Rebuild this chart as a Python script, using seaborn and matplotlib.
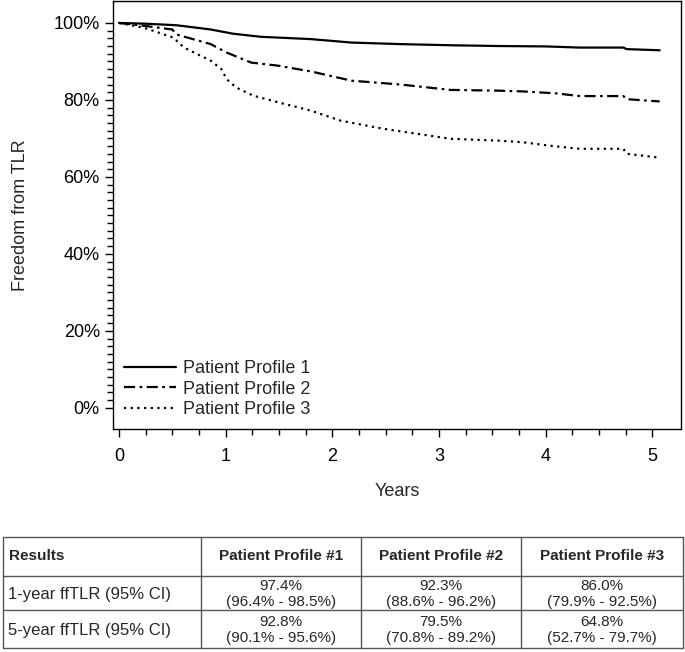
import matplotlib
matplotlib.use("Agg")
import matplotlib.pyplot as plt
from matplotlib.ticker import FixedLocator, MultipleLocator, PercentFormatter
import numpy as np
import pandas as pd
import seaborn as sns

# curves (years, % free from TLR)
p1_years = [0, 0.25, 0.54, 0.86, 1.07, 1.33, 1.8, 2.18, 2.64, 3.11, 3.57, 4.0, 4.32, 4.73, 4.76, 5.07]
p1_free = [100, 99.8, 99.4, 98.3, 97.2, 96.4, 95.8, 94.9, 94.5, 94.2, 94.0, 93.9, 93.6, 93.6, 93.2, 92.9]

p2_years = [0, 0.25, 0.5, 0.54, 0.86, 1.01, 1.24, 1.49, 1.8, 2.18, 2.64, 3.11, 3.57, 3.79, 4.10, 4.32, 4.73, 4.76, 5.07]
p2_free = [100, 99.2, 98.3, 97.0, 94.5, 92.3, 89.7, 88.9, 87.4, 85.0, 84.0, 82.6, 82.4, 82.2, 81.7, 81.0, 81.0, 80.2, 79.6]

p3_years = [0, 0.23, 0.51, 0.61, 0.86, 0.96, 1.01, 1.10, 1.26, 1.49, 1.8, 2.08, 2.48, 3.11, 3.57, 3.79, 4.04, 4.32, 4.73, 4.76, 5.07]
p3_free = [100, 98.8, 96.2, 93.6, 90.2, 88.0, 85.4, 83.2, 81.1, 79.4, 77.2, 74.6, 72.5, 69.9, 69.4, 69.0, 68.1, 67.3, 67.3, 66.0, 65.0]

profiles = ["Patient Profile 1", "Patient Profile 2", "Patient Profile 3"]

# results table
table_header = ["Results", "Patient Profile #1", "Patient Profile #2", "Patient Profile #3"]
row_labels = ["1-year ffTLR (95% CI)", "5-year ffTLR (95% CI)"]
one_year = ["97.4%\n(96.4% - 98.5%)", "92.3%\n(88.6% - 96.2%)", "86.0%\n(79.9% - 92.5%)"]
five_year = ["92.8%\n(90.1% - 95.6%)", "79.5%\n(70.8% - 89.2%)", "64.8%\n(52.7% - 79.7%)"]

sns.set_style("ticks")
plt.rcParams["font.family"] = ["Liberation Sans", "DejaVu Sans"]

frames = []
for name, t, s in zip(profiles, [p1_years, p2_years, p3_years], [p1_free, p2_free, p3_free]):
    frames.append(pd.DataFrame({"years": t, "free": s, "profile": name}))
df = pd.concat(frames, ignore_index=True)

W, H = 685, 652
fig = plt.figure(figsize=(W / 100, H / 100), dpi=100)
ax = fig.add_axes([113 / W, 1 - 429 / H, (681 - 113) / W, (429 - 1) / H])

sns.lineplot(
    data=df, x="years", y="free", hue="profile", style="profile",
    palette=["black"] * 3,
    dashes={profiles[0]: "", profiles[1]: (5, 2, 1.2, 2), profiles[2]: (1, 2)},
    estimator=None, linewidth=1.6, ax=ax,
)

ax.set_xlim(-0.056, 5.27)
ax.set_ylim(-5.5, 105.7)
ax.xaxis.set_major_locator(MultipleLocator(1))
ax.xaxis.set_minor_locator(FixedLocator(np.arange(0, 5.01, 0.25)))
ax.yaxis.set_major_locator(MultipleLocator(20))
ax.yaxis.set_minor_locator(FixedLocator(np.arange(0, 100.1, 2)))
ax.yaxis.set_major_formatter(PercentFormatter(decimals=0))
ax.tick_params(which="major", length=6, width=1, labelsize=13, color="black", labelcolor="black")
ax.tick_params(which="minor", length=4, width=1, color="black")
ax.tick_params(axis="x", pad=8)
for sp in ax.spines.values():
    sp.set_visible(True)
    sp.set_color("black")
    sp.set_linewidth(1)

ax.set_xlabel("Years", fontsize=13, labelpad=13)
ax.set_ylabel("Freedom from TLR", fontsize=13, labelpad=18)

ax.legend(loc="lower left", frameon=False, fontsize=13, handlelength=2.9,
          handletextpad=0.4, labelspacing=0.2, borderaxespad=0.2)

# results table drawn below the plot
tax = fig.add_axes([0, 0, 1, 1])
tax.set_xlim(0, W)
tax.set_ylim(H, 0)
tax.axis("off")

col_edges = [3, 201, 361, 521, 683]
row_edges = [537, 576, 610, 648]
line_color = "#555555"
for x in col_edges:
    tax.plot([x, x], [row_edges[0], row_edges[-1]], color=line_color, lw=1)
for y in row_edges:
    tax.plot([col_edges[0], col_edges[-1]], [y, y], color=line_color, lw=1)

text_color = "#262626"
hy = (row_edges[0] + row_edges[1]) / 2
tax.text(9, hy, table_header[0], ha="left", va="center", fontsize=11, fontweight="bold", color=text_color)
for i in range(1, 4):
    cx = (col_edges[i] + col_edges[i + 1]) / 2
    tax.text(cx, hy, table_header[i], ha="center", va="center", fontsize=11, fontweight="bold", color=text_color)

for r, (label, vals) in enumerate(zip(row_labels, [one_year, five_year])):
    cy = (row_edges[r + 1] + row_edges[r + 2]) / 2 + 1
    tax.text(8, cy, label, ha="left", va="center", fontsize=12, color=text_color)
    for i, v in enumerate(vals):
        cx = (col_edges[i + 1] + col_edges[i + 2]) / 2
        tax.text(cx, cy, v, ha="center", va="center", fontsize=11, color=text_color, linespacing=1.1)

fig.savefig("out.png", dpi=100)
